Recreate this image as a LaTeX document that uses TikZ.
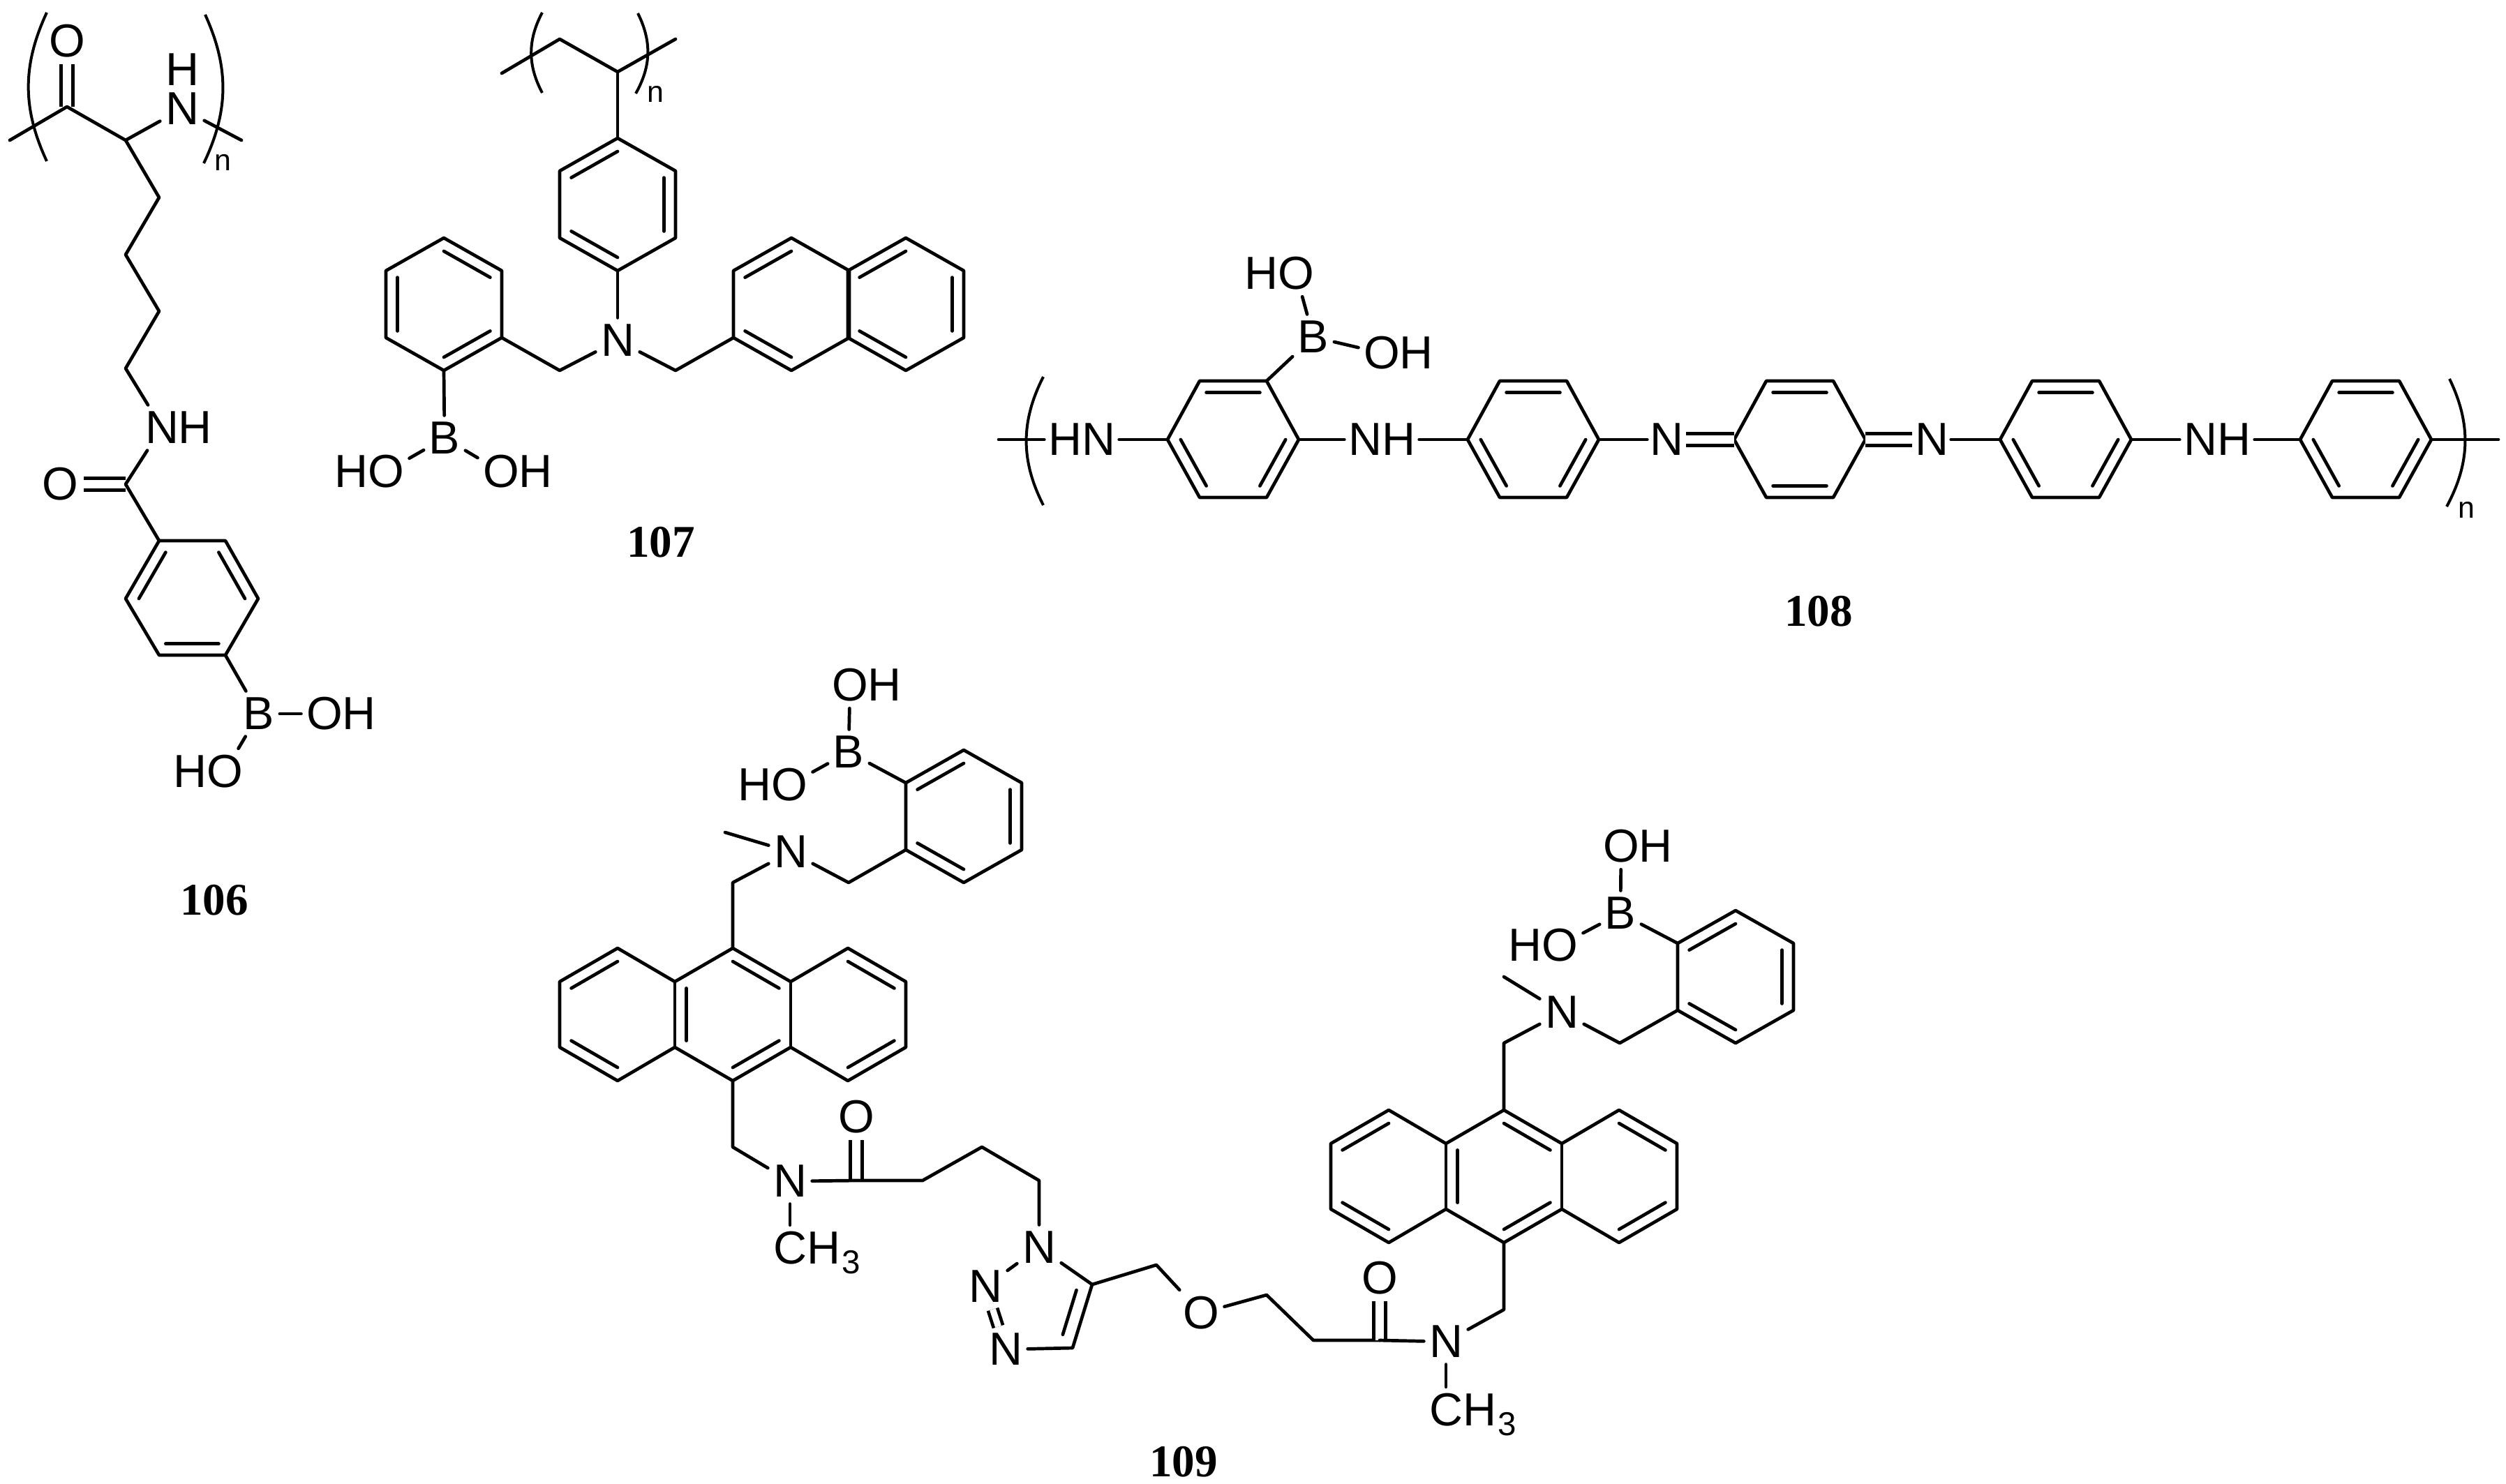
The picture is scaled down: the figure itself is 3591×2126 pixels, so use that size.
\documentclass[tikz,border=0pt]{standalone}
\usepackage{fontspec}
\setmainfont{Liberation Sans}
\newfontfamily\labelfont{Liberation Serif}
\usetikzlibrary{calc}
\tikzset{
  bond/.style={line width=.047cm, line join=round, line cap=round},
  dblbond/.style={double, double distance=.12cm, line width=.047cm},
  paren/.style={line width=.04cm},
  atom/.style={inner xsep=.07cm, inner ysep=.09cm, font=\fontsize{18.9}{20}\selectfont},
  chainatom/.style={inner xsep=.05cm, inner ysep=.09cm, font=\fontsize{18.9}{20}\selectfont},
  repeatn/.style={inner sep=0pt, font=\fontsize{12.2}{14}\selectfont},
  cmpd/.style={inner sep=0pt, font=\labelfont\bfseries\fontsize{18.5}{20}\selectfont}
}
\newcommand{\innerbond}[4][.2]{\draw[bond] ($(#2)!#1!(#4)$) -- ($(#3)!#1!(#4)$);}
\newcommand{\hexring}[3]{
  \coordinate (#11) at (#2,#3-95);
  \coordinate (#12) at (#2+83,#3-48);
  \coordinate (#13) at (#2+83,#3+48);
  \coordinate (#14) at (#2,#3+95);
  \coordinate (#15) at (#2-83,#3+48);
  \coordinate (#16) at (#2-83,#3-48);
  \coordinate (#1c) at (#2,#3);
  \draw[bond] (#11) -- (#12) -- (#13) -- (#14) -- (#15) -- (#16) -- cycle;
}
\newcommand{\subthree}{\smash{\kern.02cm\raisebox{-.14cm}{\fontsize{13.5}{14}\selectfont 3}}}

\begin{document}
\begin{tikzpicture}[x=.01cm, y=-.01cm]
  \useasboundingbox (0,0) rectangle (3591,2126);

  % 106
  \foreach \n/\x/\y in {aa/14/201, ab/96/153, ac/180/201, ad/346/201, ae/228/283, af/180/365,
      ag/228/446, ah/180/528, ai/180/694, ar1/228/775, ar2/323/775, ar3/370/858, ar4/323/939,
      ar5/228/939, ar6/180/858, arc/275/858}
    \coordinate (\n) at (\x,\y);
  \node[atom] (ao) at (96,59) {O};
  \node[atom, inner ysep=.06cm] (an) at (261,156) {N};
  \node[inner sep=0pt, font=\fontsize{18.9}{20}\selectfont] (anh) at (261,100) {H};
  \node[atom] (anh2) at (232,613) {N\rlap{H}};
  \node[atom] (ao2) at (86,694) {O};
  \node[atom] (ab1) at (371,1023) {B};
  \node[atom] (aoh) at (465,1023) {O\rlap{H}};
  \node[atom] (aho) at (322,1106) {\llap{H}O};
  \node[repeatn] (an1) at (319,233) {n};
  \node[cmpd] (a106) at (307,1290) {106};
  \draw[dblbond] (ab) -- (ao);
  \draw[dblbond] (ai) -- (ao2);
  \draw[bond] (aa) -- (ab) -- (ac) -- (an);
  \draw[bond] (an) -- (ad);
  \draw[bond] (ac) -- (ae) -- (af) -- (ag) -- (ah) -- (anh2);
  \draw[bond] (anh2) -- (ai) -- (ar1);
  \draw[bond] (ar1) -- (ar2) -- (ar3) -- (ar4) -- (ar5) -- (ar6) -- cycle;
  \foreach \p/\q in {6/1,2/3,4/5} \innerbond{ar\p}{ar\q}{arc};
  \draw[bond] (ar4) -- (ab1);
  \draw[bond] (ab1) -- (aoh);
  \draw[bond] (ab1) -- (aho);
  \draw[paren] (67,18) to[bend right=25] (67,231);
  \draw[paren] (294,21) to[bend left=25] (292,234);

  % 107
  \foreach \n/\x/\y in {ba/719/105, bb/802/56, bc/885/103, bd/968/56, be/802/531, bf/968/531}
    \coordinate (\n) at (\x,\y);
  \hexring{bp}{885}{293}
  \hexring{bq}{636}{436}
  \hexring{br}{1134}{436}
  \hexring{bs}{1298}{436}
  \foreach \p/\q in {6/1,2/3,4/5} \innerbond{bp\p}{bp\q}{bpc};
  \foreach \p/\q in {1/2,3/4,5/6} \innerbond{bq\p}{bq\q}{bqc};
  \foreach \p/\q in {6/1,4/5} \innerbond{br\p}{br\q}{brc};
  \foreach \p/\q in {6/1,2/3,4/5} \innerbond{bs\p}{bs\q}{bsc};
  \node[atom] (bn) at (885,488) {N};
  \node[atom] (bb1) at (637,628) {B};
  \node[atom] (bho) at (553,676) {\llap{H}O};
  \node[atom] (boh) at (718,676) {O\rlap{H}};
  \node[repeatn] (bn1) at (939,135) {n};
  \node[cmpd] (b107) at (947,777) {107};
  \draw[bond] (ba) -- (bb) -- (bc) -- (bd);
  \draw[bond] (bc) -- (bp1);
  \draw[bond] (bp4) -- (bn);
  \draw[bond] (bq3) -- (be) -- (bn);
  \draw[bond] (bn) -- (bf) -- (br5);
  \draw[bond] (bq4) -- (bb1);
  \draw[bond] (bb1) -- (bho);
  \draw[bond] (bb1) -- (boh);
  \draw[paren] (777,18) to[bend right=28] (777,133);
  \draw[paren] (914,19) to[bend left=28] (911,134);

  % 108
  \foreach \n/\x in {1/1767,2/2197,3/2579,4/2960,5/3390}{
    \coordinate (cl\n) at (\x-94,630);
    \coordinate (ct\n) at (\x-48,546);
    \coordinate (cu\n) at (\x+48,546);
    \coordinate (cr\n) at (\x+94,630);
    \coordinate (cw\n) at (\x+48,713);
    \coordinate (cv\n) at (\x-48,713);
    \coordinate (cc\n) at (\x,630);
  }
  \foreach \n in {1,2,3,4,5}{
    \draw[bond] (cl\n) -- (ct\n) -- (cu\n) -- (cr\n) -- (cw\n) -- (cv\n) -- cycle;
    \innerbond{ct\n}{cu\n}{cc\n}
  }
  \foreach \n in {1,2,4,5}{
    \innerbond{cl\n}{cv\n}{cc\n}
    \innerbond{cr\n}{cw\n}{cc\n}
  }
  \innerbond{cv3}{cw3}{cc3}
  \coordinate (ca) at (1431,630);
  \coordinate (cz) at (3580,630);
  \node[chainatom] (chn) at (1550,630) {HN};
  \node[chainatom] (cnh1) at (1980,630) {NH};
  \node[chainatom, inner xsep=.03cm] (cn1) at (2388,630) {N};
  \node[chainatom, inner xsep=.03cm] (cn2) at (2768,630) {N};
  \node[chainatom] (cnh2) at (3177,630) {NH};
  \node[atom] (cb1) at (1882,483) {B};
  \node[atom] (cho) at (1857,392) {\llap{H}O};
  \node[atom] (coh) at (1980,506) {O\rlap{H}};
  \node[repeatn] (cn3) at (3534,731) {n};
  \node[cmpd] (c108) at (2606,876) {108};
  \draw[bond] (ca) -- (chn);
  \draw[bond] (chn) -- (cl1);
  \draw[bond] (cr1) -- (cnh1);
  \draw[bond] (cnh1) -- (cl2);
  \draw[bond] (cr2) -- (cn1);
  \draw[dblbond] (cn1) -- (cl3);
  \draw[dblbond] (cr3) -- (cn2);
  \draw[bond] (cn2) -- (cl4);
  \draw[bond] (cr4) -- (cnh2);
  \draw[bond] (cnh2) -- (cl5);
  \draw[bond] (cr5) -- (cz);
  \draw[bond] (cu1) -- (cb1);
  \draw[bond] (cb1) -- (cho);
  \draw[bond] (cb1) -- (coh);
  \draw[paren] (1495,540) to[bend right=27] (1495,724);
  \draw[paren] (3510,543) to[bend left=27] (3506,726);

  % 109
  \foreach \n/\x/\y in {d/1050/1454, e/2155/1686}{
    \coordinate (\n a) at (\x,\y-95);
    \coordinate (\n b) at (\x+83,\y-47);
    \coordinate (\n c) at (\x+83,\y+47);
    \coordinate (\n d) at (\x,\y+95);
    \coordinate (\n e) at (\x-83,\y+47);
    \coordinate (\n f) at (\x-83,\y-47);
    \coordinate (\n g) at (\x-165,\y-95);
    \coordinate (\n h) at (\x-248,\y-47);
    \coordinate (\n i) at (\x-248,\y+47);
    \coordinate (\n j) at (\x-165,\y+95);
    \coordinate (\n k) at (\x+165,\y-95);
    \coordinate (\n l) at (\x+248,\y-47);
    \coordinate (\n m) at (\x+248,\y+47);
    \coordinate (\n o) at (\x+165,\y+95);
    \coordinate (\n z) at (\x,\y);
    \coordinate (\n y) at (\x-165,\y);
    \coordinate (\n x) at (\x+165,\y);
  }
  \foreach \n in {d,e}{
    \draw[bond] (\n g) -- (\n h) -- (\n i) -- (\n j) -- (\n e) -- (\n d) -- (\n c) -- (\n o)
      -- (\n m) -- (\n l) -- (\n k) -- (\n b) -- (\n a) -- (\n f) -- cycle;
    \draw[bond] (\n f) -- (\n e);
    \draw[bond] (\n b) -- (\n c);
    \innerbond{\n g}{\n h}{\n y}
    \innerbond{\n i}{\n j}{\n y}
    \innerbond{\n k}{\n l}{\n x}
    \innerbond{\n m}{\n o}{\n x}
    \innerbond{\n a}{\n b}{\n z}
    \innerbond{\n c}{\n d}{\n z}
    \innerbond{\n f}{\n e}{\n z}
  }
  \hexring{dp}{1381}{1170}
  \hexring{ep}{2487}{1400}
  \foreach \p/\q in {6/1,2/3,4/5}{
    \innerbond{dp\p}{dp\q}{dpc}
    \innerbond{ep\p}{ep\q}{epc}
  }
  \foreach \n/\x/\y in {da1/1216/1265, da2/1050/1265, da3/1039/1193, da4/1050/1644, da5/1227/1692,
      da6/1322/1692, da7/1407/1644, da8/1489/1692, dt4/1537/1932, dt5/1565/1841, dtc/1490/1868,
      dm1/1657/1813, dm2/1815/1856, dm3/1882/1921, dm4/1977/1921, ea1/2155/1877, ea2/2155/1495,
      ea3/2155/1400, ea4/2321/1495}
    \coordinate (\n) at (\x,\y);
  \node[atom] (db1) at (1216,1078) {B};
  \node[atom] (doh) at (1218,982) {O\rlap{H}};
  \node[atom] (dho) at (1131,1125) {\llap{H}O};
  \node[atom] (dn1) at (1133,1221) {N};
  \node[atom] (dn2) at (1132,1693) {N};
  \node[atom] (dme) at (1132,1789) {C\rlap{H\subthree}};
  \node[atom] (do1) at (1227,1601) {O};
  \node[atom] (dt1) at (1489,1788) {N};
  \node[atom] (dt2) at (1412,1844) {N};
  \node[atom] (dt3) at (1441,1934) {N};
  \node[atom] (do2) at (1721,1882) {O};
  \node[atom] (do3) at (1977,1832) {O};
  \node[atom] (en2) at (2072,1923) {N};
  \node[atom] (eme) at (2072,2021) {C\rlap{H\subthree}};
  \node[atom] (en1) at (2238,1451) {N};
  \node[atom] (eb1) at (2322,1309) {B};
  \node[atom] (eoh) at (2323,1213) {O\rlap{H}};
  \node[atom] (eho) at (2235,1355) {\llap{H}O};
  \node[cmpd] (d109) at (1696,2095) {109};
  \draw[bond] (dp6) -- (db1);
  \draw[bond] (db1) -- (doh);
  \draw[bond] (db1) -- (dho);
  \draw[bond] (dp5) -- (da1) -- (dn1);
  \draw[bond] (da3) -- (dn1);
  \draw[bond] (dn1) -- (da2) -- (da);
  \draw[bond] (dd) -- (da4) -- (dn2);
  \draw[bond] (dn2) -- (dme);
  \draw[dblbond] (da5) -- (do1);
  \draw[bond] (dn2) -- (da5) -- (da6) -- (da7) -- (da8) -- (dt1);
  \draw[bond] (dt1) -- (dt2);
  \draw[dblbond, double distance=.09cm] (dt2) -- (dt3);
  \draw[bond] (dt3) -- (dt4) -- (dt5) -- (dt1);
  \innerbond[.3]{dt4}{dt5}{dtc}
  \draw[bond] (dt5) -- (dm1) -- (do2);
  \draw[bond] (do2) -- (dm2) -- (dm3) -- (dm4);
  \draw[dblbond] (dm4) -- (do3);
  \draw[bond] (dm4) -- (en2);
  \draw[bond] (en2) -- (eme);
  \draw[bond] (en2) -- (ea1) -- (ed);
  \draw[bond] (ea) -- (ea2) -- (en1);
  \draw[bond] (ea3) -- (en1);
  \draw[bond] (en1) -- (ea4) -- (ep5);
  \draw[bond] (ep6) -- (eb1);
  \draw[bond] (eb1) -- (eoh);
  \draw[bond] (eb1) -- (eho);
\end{tikzpicture}
\end{document}
